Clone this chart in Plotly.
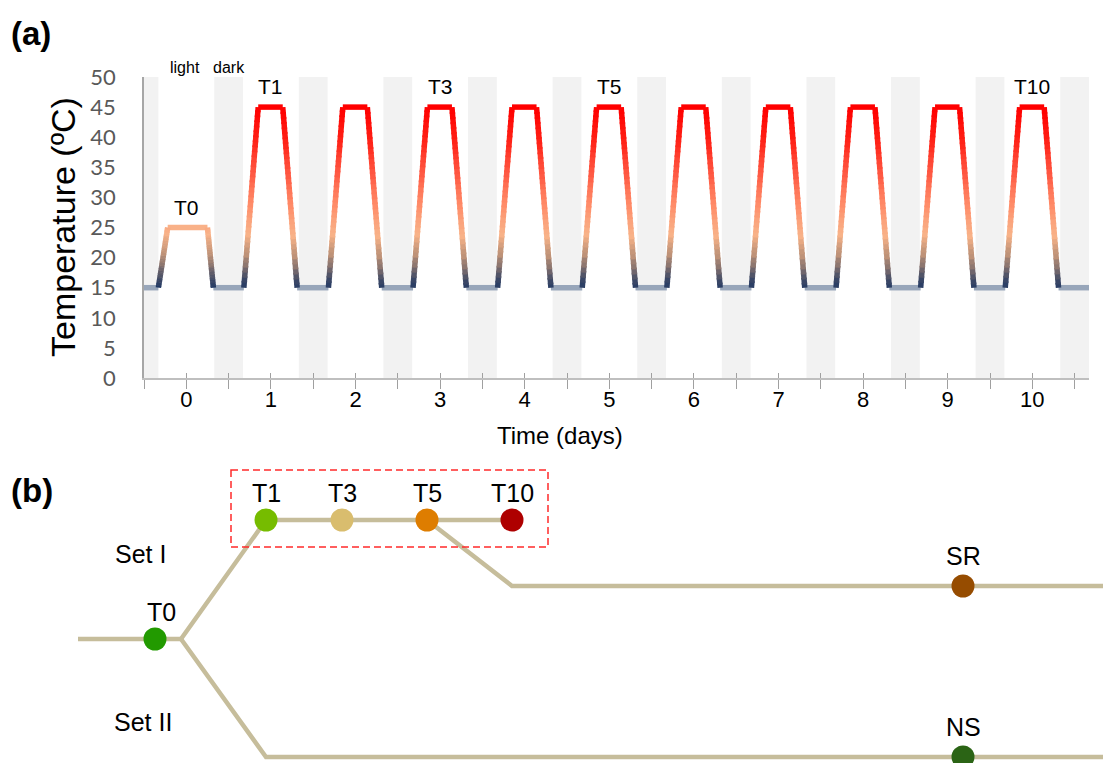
import plotly.graph_objects as go

W, H = 1103, 763

# ---------------- (a) temperature regime ----------------
# breakpoints of the daily temperature programme (time in days, temperature in °C)
profile_time = [-0.5, -0.33, -0.22, 0.25, 0.32,
                0.68, 0.85, 1.14, 1.31,
                1.68, 1.85, 2.14, 2.31,
                2.68, 2.85, 3.14, 3.31,
                3.68, 3.85, 4.14, 4.31,
                4.68, 4.85, 5.14, 5.31,
                5.68, 5.85, 6.14, 6.31,
                6.68, 6.85, 7.14, 7.31,
                7.68, 7.85, 8.14, 8.31,
                8.68, 8.85, 9.14, 9.31,
                9.68, 9.85, 10.14, 10.31,
                10.67]
profile_temp = [15, 15, 25, 25, 15,
                15, 45, 45, 15,
                15, 45, 45, 15,
                15, 45, 45, 15,
                15, 45, 45, 15,
                15, 45, 45, 15,
                15, 45, 45, 15,
                15, 45, 45, 15,
                15, 45, 45, 15,
                15, 45, 45, 15,
                15, 45, 45, 15,
                15]

# dark periods of the photoperiod (days)
dark_start = [-0.5, 0.33, 1.33, 2.33, 3.33, 4.33, 5.33, 6.33, 7.33, 8.33, 9.33, 10.33]
dark_end = [-0.33, 0.67, 1.67, 2.67, 3.67, 4.67, 5.67, 6.67, 7.67, 8.67, 9.67, 10.67]

day_ticks = [0, 1, 2, 3, 4, 5, 6, 7, 8, 9, 10]
temp_ticks = [0, 5, 10, 15, 20, 25, 30, 35, 40, 45, 50]

sample_names = ["T0", "T1", "T3", "T5", "T10"]
sample_day = [0, 1, 3, 5, 10]

# ---------------- (b) sampling scheme ----------------
node_names = ["T0", "T1", "T3", "T5", "T10", "SR", "NS"]
node_x = [155, 266, 342, 427, 512, 963, 963]
node_y = [639, 520, 520, 520, 520, 586, 757]
node_colors = ["#229a00", "#76bc00", "#d9bd6e", "#de7d00", "#ae0000", "#964c00", "#2b6415"]

trunk_x, trunk_y = [78, 181], [639, 639]
set1_x, set1_y = [181, 266, 512], [639, 520, 520]
recovery_x, recovery_y = [427, 512, 1103], [520, 586, 586]
set2_x, set2_y = [181, 266, 1103], [639, 757, 757]

TEXT_FONT = "Liberation Sans, Arial, sans-serif"

# colour ramp used along the heating / cooling flanks
ramp_stops = [(15, (31, 56, 100)), (17.5, (95, 92, 105)), (20.5, (190, 146, 120)),
              (24, (248, 178, 136)), (29, (255, 140, 105)), (35, (255, 80, 60)),
              (40, (255, 30, 20)), (45, (255, 0, 0))]
flat_colors = {15: "#98a6ba", 25: "#f9b188", 45: "#ff0000"}


def ramp_color(t):
    for (t0, c0), (t1, c1) in zip(ramp_stops[:-1], ramp_stops[1:]):
        if t <= t1:
            f = max(0.0, (t - t0) / (t1 - t0))
            return "rgb(%d,%d,%d)" % tuple(round(a + (b - a) * f) for a, b in zip(c0, c1))
    return "rgb(255,0,0)"


fig = go.Figure()

# plateaus, one trace per level
flat_paths = {}
for i in range(len(profile_time) - 1):
    if profile_temp[i] == profile_temp[i + 1]:
        xs, ys = flat_paths.setdefault(profile_temp[i], ([], []))
        xs += [profile_time[i], profile_time[i + 1], None]
        ys += [profile_temp[i], profile_temp[i + 1], None]
for level, (xs, ys) in flat_paths.items():
    fig.add_trace(go.Scatter(x=xs, y=ys, mode="lines", xaxis="x", yaxis="y",
                             line=dict(color=flat_colors[level], width=5.5),
                             hoverinfo="skip", showlegend=False))

# flanks drawn as short pieces coloured by temperature
pieces = 36
ramp_bins = {}
for i in range(len(profile_time) - 1):
    ta, tb = profile_time[i], profile_time[i + 1]
    ya, yb = profile_temp[i], profile_temp[i + 1]
    if ya == yb:
        continue
    for k in range(pieces):
        s0 = k / pieces
        s1 = min(1.0, (k + 1.35) / pieces)
        mid = ya + (yb - ya) * (k + 0.5) / pieces
        key = round(mid * 2) / 2
        xs, ys = ramp_bins.setdefault(key, ([], []))
        xs += [ta + (tb - ta) * s0, ta + (tb - ta) * s1, None]
        ys += [ya + (yb - ya) * s0, ya + (yb - ya) * s1, None]
for key, (xs, ys) in sorted(ramp_bins.items()):
    fig.add_trace(go.Scatter(x=xs, y=ys, mode="lines", xaxis="x", yaxis="y",
                             line=dict(color=ramp_color(key), width=5.5),
                             hoverinfo="skip", showlegend=False))

# companion axis that carries the upward half of the crossing ticks
fig.add_trace(go.Scatter(x=[None], y=[None], xaxis="x3", yaxis="y",
                         hoverinfo="skip", showlegend=False))

# dark-period shading
for a, b in zip(dark_start, dark_end):
    fig.add_shape(type="rect", xref="x", yref="y", x0=a, x1=b, y0=0, y1=50,
                  fillcolor="#f2f2f2", line_width=0, layer="below")

# sample labels above the plateaus
for name, d in zip(sample_names, sample_day):
    idx = max(i for i, t in enumerate(profile_time) if t <= d)
    fig.add_annotation(x=d, y=profile_temp[idx] + 3.4, xref="x", yref="y",
                       text=name, showarrow=False, xanchor="center", yanchor="middle",
                       font=dict(family=TEXT_FONT, size=21, color="black"))

# ---- scheme (b)
path_x = trunk_x + [None] + set1_x + [None] + recovery_x + [None] + set2_x
path_y = trunk_y + [None] + set1_y + [None] + recovery_y + [None] + set2_y
fig.add_trace(go.Scatter(x=path_x, y=path_y, mode="lines", xaxis="x2", yaxis="y2",
                         line=dict(color="#c6bd9b", width=4.5),
                         hoverinfo="skip", showlegend=False, cliponaxis=False))
fig.add_trace(go.Scatter(x=node_x, y=node_y, mode="markers", xaxis="x2", yaxis="y2",
                         marker=dict(size=23, color=node_colors, line_width=0),
                         hoverinfo="skip", showlegend=False, cliponaxis=False))
for name, x, y in zip(node_names, node_x, node_y):
    fig.add_annotation(x=x, y=y, xref="x2", yref="y2", text=name, showarrow=False,
                       xanchor="center", yanchor="middle",
                       yshift=27 if y in (520, 639) else 30,
                       xshift=6 if name == "T0" else 0,
                       font=dict(family=TEXT_FONT, size=25, color="black"))

fig.add_shape(type="rect", xref="x2", yref="y2", x0=231, x1=548, y0=470, y1=547,
              line=dict(color="#ff2a2a", width=1.5, dash="7px,4px"), fillcolor="rgba(0,0,0,0)")

fig.add_annotation(x=140, y=554, xref="x2", yref="y2", text="Set I", showarrow=False,
                   xanchor="center", yanchor="middle",
                   font=dict(family=TEXT_FONT, size=25, color="black"))
fig.add_annotation(x=143, y=722, xref="x2", yref="y2", text="Set II", showarrow=False,
                   xanchor="center", yanchor="middle",
                   font=dict(family=TEXT_FONT, size=25, color="black"))


# ---- panel letters and axis titles
def px_x(p):
    return p / W


def px_y(p):
    return 1 - p / H


def paper_text(x, y, text, size, **kw):
    fig.add_annotation(x=px_x(x), y=px_y(y), xref="paper", yref="paper", text=text,
                       showarrow=False, xanchor=kw.pop("xanchor", "center"), yanchor="middle",
                       font=dict(family=TEXT_FONT, size=size, color="black"), **kw)


paper_text(9, 33, "<b>(a)</b>", 33, xanchor="left")
paper_text(9, 490, "<b>(b)</b>", 33, xanchor="left")
paper_text(63, 227, "Temperature (ºC)", 34, textangle=-90)
paper_text(560, 435, "Time (days)", 24)

for label, d in (("light", -0.02), ("dark", 0.5)):
    fig.add_annotation(x=d, y=px_y(68), xref="x", yref="paper", text=label, showarrow=False,
                       xanchor="center", yanchor="middle",
                       font=dict(family=TEXT_FONT, size=16, color="black"))

xa_dom = [144 / W, 1089 / W]
fig.update_layout(
    width=W, height=H, margin=dict(l=0, r=0, t=0, b=0, pad=0, autoexpand=False),
    paper_bgcolor="white", plot_bgcolor="rgba(0,0,0,0)",
    xaxis=dict(domain=xa_dom, range=[-0.5, 10.67], anchor="y",
               tickmode="array", tickvals=day_ticks, ticktext=[str(d) for d in day_ticks],
               ticks="outside", ticklen=6, tickwidth=1.3, tickcolor="#a0a0a0",
               ticklabelstandoff=-5,
               minor=dict(ticks="outside", tick0=-0.5, dtick=0.5, ticklen=9,
                          tickwidth=1.3, tickcolor="#a0a0a0"),
               showline=True, linecolor="#bfbfbf", linewidth=1.5,
               showgrid=False, zeroline=False, automargin=False,
               tickfont=dict(family=TEXT_FONT, size=22, color="black")),
    xaxis3=dict(domain=xa_dom, range=[-0.5, 10.67], anchor="y", overlaying="x",
                tickmode="linear", tick0=-0.5, dtick=0.5, ticks="inside", ticklen=5,
                tickwidth=1.3, tickcolor="#a0a0a0", showticklabels=False, automargin=False,
                showline=False, showgrid=False, zeroline=False),
    yaxis=dict(domain=[1 - 378 / H, 1 - 77 / H], range=[0, 50], anchor="x",
               tickmode="array", tickvals=temp_ticks, ticks="",
               ticklabelstandoff=22, automargin=False,
               showline=True, linecolor="#a6a6a6", linewidth=1.5,
               showgrid=False, zeroline=False,
               tickfont=dict(family="Lato, sans-serif", size=22, color="#595959")),
    xaxis2=dict(domain=[0, 1], range=[0, W], anchor="y2", visible=False, automargin=False),
    yaxis2=dict(domain=[0, 1 - 450 / H], range=[H, 450], anchor="x2", visible=False,
                automargin=False),
)

fig.write_html("out.html")
